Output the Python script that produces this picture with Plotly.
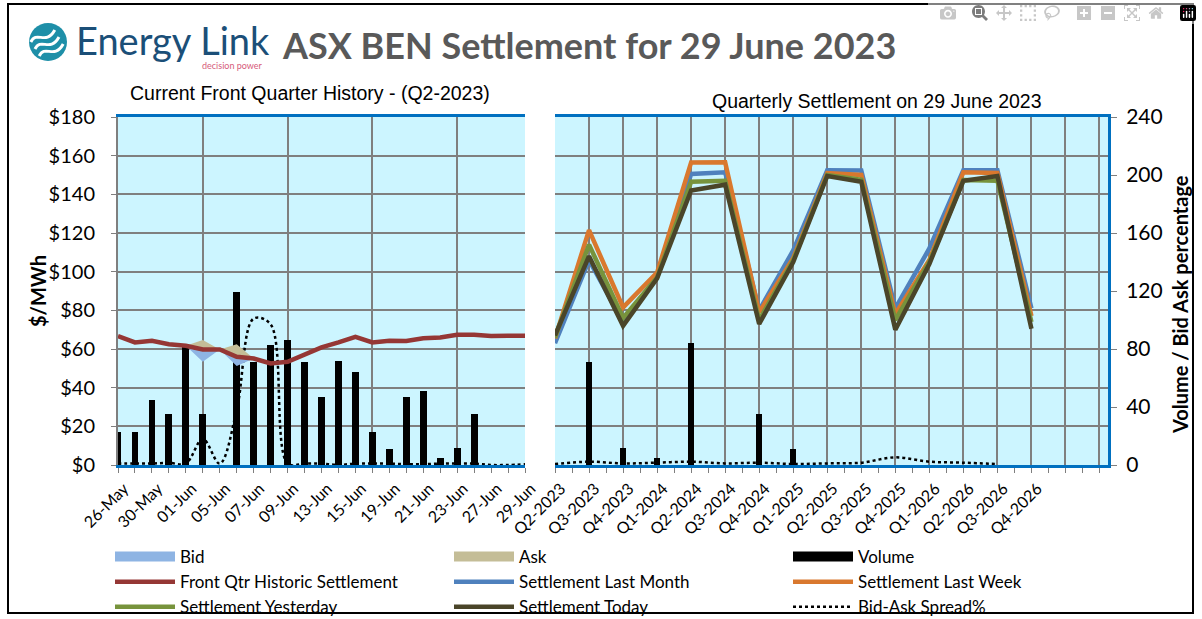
import plotly.graph_objects as go

W, H = 1202, 619

# ---------------- data ----------------
dates = ["26-May", "29-May", "30-May", "31-May", "01-Jun", "02-Jun", "05-Jun", "06-Jun",
         "07-Jun", "08-Jun", "09-Jun", "12-Jun", "13-Jun", "14-Jun", "15-Jun", "16-Jun",
         "19-Jun", "20-Jun", "21-Jun", "22-Jun", "23-Jun", "26-Jun", "27-Jun", "28-Jun", "29-Jun"]
front_qtr_hist = [66.7, 63.4, 64.3, 62.5, 61.7, 59.8, 59.8, 56.0, 55.1, 52.5, 53.4, 57.4, 60.8,
                  63.4, 66.3, 63.4, 64.3, 64.1, 65.6, 66.0, 67.4, 67.4, 66.7, 66.8, 66.8]
hist_bid = [66.7, 63.4, 64.3, 62.5, 61.7, 53.4, 59.8, 51.2, 55.1, 52.5, 53.4, 57.4, 60.8,
            63.4, 66.3, 63.4, 64.3, 64.1, 65.6, 66.0, 67.4, 67.4, 66.7, 66.8, 66.8]
hist_ask = [66.7, 63.4, 64.3, 62.5, 61.7, 64.6, 59.8, 62.4, 55.1, 52.5, 53.4, 57.4, 60.8,
            63.4, 66.3, 63.4, 64.3, 64.1, 65.6, 66.0, 67.4, 67.4, 66.7, 66.8, 66.8]
hist_volume = [23, 23, 45, 35, 83, 35, 0, 119, 71, 83, 86, 71, 47, 72, 64, 23, 11, 47, 51, 5,
               12, 35, 0, 0, 0]
hist_spread = [1, 1, 1, 1.5, 1, 18, 1, 38, 101, 97, 1, 1, 1, 0, 1, 1, 1, 0.5, 0.5, 1, 1, 1,
               0, 0, 0.5]

quarters = ["Q2-2023", "Q3-2023", "Q4-2023", "Q1-2024", "Q2-2024", "Q3-2024", "Q4-2024",
            "Q1-2025", "Q2-2025", "Q3-2025", "Q4-2025", "Q1-2026", "Q2-2026", "Q3-2026", "Q4-2026"]
settle_last_month = [63, 106, 74, 97.5, 150.5, 151.4, 80, 111, 152.5, 152.3, 81, 112, 152.5, 152.5, 81]
settle_last_week = [65.5, 121.5, 81.5, 99.5, 156.5, 156.6, 79, 107, 151, 150, 78, 106, 151.4, 151, 77]
settle_yesterday = [66, 114, 76, 97, 146.5, 147, 75, 106, 150, 147.5, 75, 105, 147.4, 147, 74]
settle_today = [67, 108, 72, 96.5, 142, 145, 73, 105, 149.5, 146.5, 70, 104, 147, 149.5, 70.5]
qtr_volume = [0, 71, 12, 5, 84, 0, 35, 11, 0, 0, 0, 0, 0, 0, 0]
qtr_spread = [0.7, 2.3, 1.1, 1.6, 2.3, 1.1, 1.6, 0.7, 1.1, 1.6, 5.3, 2.3, 1.6, 0.7]

# ---------------- styling ----------------
BG = "#CCF5FF"
GRID = "#7F7F7F"
BLUE_BORDER = "#0070C0"
FONT = "Lato"
C_BID, C_ASK = "#8EB4E3", "#C4BD97"


def px(x):
    return x / W


def py(y):
    return 1 - y / H


xi = list(range(len(dates)))
qi = list(range(len(quarters)))

fig = go.Figure()

# Bid / Ask bands around historic settlement (left panel)
fig.add_trace(go.Scatter(x=xi, y=front_qtr_hist, xaxis="x", yaxis="y2", mode="lines",
                         line=dict(width=0), showlegend=False, hoverinfo="skip"))
fig.add_trace(go.Scatter(x=xi, y=hist_ask, xaxis="x", yaxis="y2", mode="lines", name="Ask",
                         line=dict(width=0, color=C_ASK), fill="tonexty",
                         fillcolor=C_ASK, legendgroup="ask", showlegend=False))
fig.add_trace(go.Scatter(x=xi, y=front_qtr_hist, xaxis="x", yaxis="y2", mode="lines",
                         line=dict(width=0), showlegend=False, hoverinfo="skip"))
fig.add_trace(go.Scatter(x=xi, y=hist_bid, xaxis="x", yaxis="y2", mode="lines", name="Bid",
                         line=dict(width=0, color=C_BID), fill="tonexty",
                         fillcolor=C_BID, legendgroup="bid", showlegend=False))

# Volume bars
fig.add_trace(go.Bar(x=xi, y=hist_volume, xaxis="x", yaxis="y", name="Volume",
                     marker=dict(color="black", line=dict(width=0)), width=0.4,
                     legendgroup="vol", showlegend=False))
fig.add_trace(go.Bar(x=qi, y=qtr_volume, xaxis="x2", yaxis="y", name="Volume",
                     marker=dict(color="black", line=dict(width=0)), width=0.17,
                     legendgroup="vol", showlegend=False))

# legend swatches (wide blocks) for the area / bar series
for name, col, grp, rank in [("Bid", C_BID, "bid", 1), ("Ask", C_ASK, "ask", 2),
                             ("Volume", "black", "vol", 3)]:
    fig.add_trace(go.Scatter(x=[None], y=[None], xaxis="x", yaxis="y2", mode="lines",
                             name=name, legendgroup=grp, legendrank=rank,
                             line=dict(color=col, width=14), hoverinfo="skip"))

# Spread dotted lines
fig.add_trace(go.Scatter(x=xi, y=hist_spread, xaxis="x", yaxis="y", mode="lines",
                         name="Bid-Ask Spread%", legendgroup="spr", legendrank=9,
                         line=dict(color="black", width=2.5, dash="dot", shape="spline",
                                   smoothing=1.0)))
fig.add_trace(go.Scatter(x=qi[:len(qtr_spread)], y=qtr_spread, xaxis="x2", yaxis="y",
                         mode="lines", name="Bid-Ask Spread%", legendgroup="spr",
                         showlegend=False,
                         line=dict(color="black", width=2.5, dash="dot", shape="spline",
                                   smoothing=1.0)))

# Historic settlement line
fig.add_trace(go.Scatter(x=xi, y=front_qtr_hist, xaxis="x", yaxis="y2", mode="lines",
                         name="Front Qtr Historic Settlement", legendrank=4,
                         line=dict(color="#953735", width=4.5)))

# Quarterly settlement lines
for name, vals, col, rank in [
    ("Settlement Last Month", settle_last_month, "#4F81BD", 5),
    ("Settlement Last Week", settle_last_week, "#D9782E", 6),
    ("Settlement Yesterday", settle_yesterday, "#77933C", 7),
    ("Settlement Today", settle_today, "#4A4529", 8),
]:
    fig.add_trace(go.Scatter(x=qi, y=vals, xaxis="x2", yaxis="y2", mode="lines", name=name,
                             legendrank=rank, line=dict(color=col, width=4.5)))

ydom = [py(465), py(117)]

fig.update_layout(
    width=W, height=H,
    margin=dict(l=0, r=0, t=0, b=0, autoexpand=False),
    paper_bgcolor="white",
    plot_bgcolor=BG,
    font=dict(family=FONT, color="black", size=16),
    showlegend=True,
    bargap=0,
    xaxis=dict(
        domain=[px(118), px(525)], range=[0, 24], anchor="y",
        tickmode="array", tickvals=xi,
        ticktext=[d if i % 2 == 0 else "" for i, d in enumerate(dates)],
        tickangle=-45, ticks="outside", ticklen=5, tickcolor=GRID, tickwidth=1,
        tickfont=dict(size=16), showgrid=False, zeroline=False, ticklabelshift=6,
        minor=dict(tickmode="array", tickvals=[0, 5, 10, 15, 20, 24], showgrid=True,
                   gridcolor=GRID, gridwidth=1.5, ticks=""),
        showline=True, linecolor=BLUE_BORDER, linewidth=3, mirror=True,
    ),
    xaxis2=dict(
        domain=[px(555), px(1108)], range=[0, 16.25], anchor="y",
        tickmode="array", tickvals=list(range(17)), ticktext=quarters + ["", ""],
        tickangle=-45, ticks="outside", ticklen=5, tickcolor=GRID, tickwidth=1,
        tickfont=dict(size=16), showgrid=True, gridcolor=GRID, gridwidth=1.5, zeroline=False,
        ticklabelshift=6,
        minor=dict(tick0=0, dtick=0.5, ticks="outside", ticklen=5, tickcolor=GRID,
                   showgrid=False),
        showline=True, linecolor=BLUE_BORDER, linewidth=3, mirror=True,
    ),
    yaxis=dict(
        domain=ydom, range=[0, 240], dtick=40, side="right", anchor="x2",
        ticks="outside", ticklen=6, tickcolor=GRID, showgrid=False, zeroline=False,
        tickfont=dict(size=21), showline=True, linecolor=BLUE_BORDER, linewidth=3,
        ticklabelstandoff=5,
    ),
    yaxis2=dict(
        domain=ydom, range=[0, 180], dtick=20, side="left", anchor="x", overlaying="y",
        tickprefix="$", ticks="outside", ticklen=5, tickcolor=GRID,
        showgrid=True, gridcolor=GRID, gridwidth=1.5, zeroline=False,
        tickfont=dict(size=20), showline=True, linecolor=GRID, linewidth=2,
        ticklabelstandoff=12,
    ),
    legend=dict(
        orientation="h", x=px(110), y=py(539), xanchor="left", yanchor="top",
        entrywidth=264, entrywidthmode="pixels", font=dict(size=17),
        bgcolor="rgba(0,0,0,0)", traceorder="normal", itemwidth=60, tracegroupgap=0,
    ),
)

annotations = [
    dict(text="ASX BEN Settlement for 29 June 2023", x=px(280), y=py(45), xanchor="left",
         yanchor="middle", font=dict(size=36, color="#595959", family=FONT, weight="bold")),
    dict(text="Energy Link", x=px(74), y=py(40), xanchor="left", yanchor="middle",
         font=dict(size=38, color="#1B4F78", family=FONT)),
    dict(text="decision power", x=px(265), y=py(65), xanchor="right", yanchor="middle",
         font=dict(size=9, color="#D65B7A", family=FONT)),
    dict(text="Current Front Quarter History - (Q2-2023)", x=px(128), y=py(93),
         xanchor="left", yanchor="middle",
         font=dict(size=19.5, family="Liberation Sans", color="black")),
    dict(text="Quarterly Settlement on 29 June 2023", x=px(710), y=py(101),
         xanchor="left", yanchor="middle",
         font=dict(size=19.5, family="Liberation Sans", color="black")),
    dict(text="$/MWh", x=px(38), y=py(291), xanchor="center", yanchor="middle",
         textangle=-90, font=dict(size=20, family=FONT, weight="bold")),
    dict(text="Volume / Bid Ask percentage", x=px(1180), y=py(305), xanchor="center",
         yanchor="middle", textangle=-90, font=dict(size=20, family=FONT, weight="bold")),
]
for a in annotations:
    a.update(xref="paper", yref="paper", showarrow=False)
fig.update_layout(annotations=annotations)

# logo + outer frame
shapes = [
    dict(type="rect", xref="paper", yref="paper", x0=px(8), x1=px(1193), y0=py(613), y1=py(4),
         line=dict(color="black", width=2), fillcolor="rgba(0,0,0,0)"),
    dict(type="circle", xref="paper", yref="paper", x0=px(29), x1=px(67), y0=py(61), y1=py(23),
         fillcolor="#1E8FA8", line=dict(width=0)),
]
for k in (-7, 0, 7):
    pts = [(35 + k * 0.6, 49 + k), (41 + k * 0.6, 37 + k), (50 + k * 0.6, 53 + k),
           (59 + k * 0.6, 37 + k)]
    path = "M{},{} C{},{} {},{} {},{}".format(
        px(pts[0][0]), py(pts[0][1]), px(pts[1][0]), py(pts[1][1]),
        px(pts[2][0]), py(pts[2][1]), px(pts[3][0]), py(pts[3][1]))
    shapes.append(dict(type="path", xref="paper", yref="paper", path=path,
                       line=dict(color="white", width=3)))
fig.update_layout(shapes=shapes)

fig.write_html("out.html", post_script="document.body.style.margin='0';")
